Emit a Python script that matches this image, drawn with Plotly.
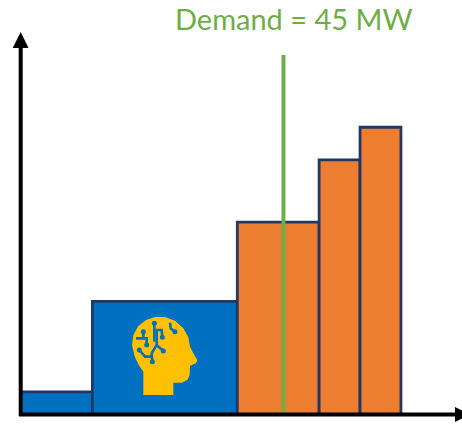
import plotly.graph_objects as go

W, H = 462, 424

# Merit-order blocks: capacity (MW) and bid height for each generator
capacity_mw = [12.3, 24.8, 14, 7, 7]
bid_height = [8, 40, 68, 90, 101.5]
block_colors = ["#0070C0", "#0070C0", "#ED7D31", "#ED7D31", "#ED7D31"]
demand_mw = 45
demand_label = "Demand = 45 MW"
demand_line_top = 127

NAVY = "#1F3864"
GREEN = "#70AD47"
BLUE = "#0070C0"
GOLD = "#FFC000"

left_edges = [sum(capacity_mw[:i]) for i in range(len(capacity_mw))]

# Plot scale: the origin sits 20.5 px from the left and 9.5 px from the bottom
PX_PER_MW = 5.844
PX_PER_UNIT = 2.83
x_range = [-20.5 / PX_PER_MW, (W - 20.5) / PX_PER_MW]
y_range = [-9.5 / PX_PER_UNIT, (H - 9.5) / PX_PER_UNIT]


def px(x, y):
    return x / W, 1 - y / H


def path(points, close=False):
    parts = []
    for i, (x, y) in enumerate(points):
        fx, fy = px(x, y)
        parts.append(f"{'M' if i == 0 else 'L'}{fx:.5f},{fy:.5f}")
    return " ".join(parts) + (" Z" if close else "")


def paper_shape(d, **kw):
    return dict(type="path", xref="paper", yref="paper", path=d, layer="above", **kw)


# Head icon outline, traced in a 110-unit box placed over the large blue block
def icon(u, v):
    return 110 + u / 3, 300 + v / 3


head_outline = [(100, 285), (100, 215), (88, 198), (74, 170), (66, 135), (70, 105), (85, 78),
                (108, 60), (135, 51), (165, 51), (195, 62), (220, 85), (235, 112), (240, 140),
                (250, 160), (262, 180), (258, 190), (240, 197), (239, 225), (232, 240),
                (215, 248), (190, 248), (190, 285)]
circuit_traces = [
    [(78, 115), (110, 115), (110, 135)],
    [(100, 95), (100, 115)],
    [(133, 70), (133, 125)],
    [(157, 112), (155, 90), (140, 90), (140, 135), (125, 160), (127, 185)],
    [(88, 150), (105, 170), (125, 170)],
    [(140, 135), (160, 153)],
    [(180, 68), (182, 85), (195, 95)],
]
circuit_nodes = [(110, 135), (100, 95), (133, 70), (157, 112), (127, 185), (88, 150), (160, 153), (195, 95)]

shapes = [
    paper_shape(path([icon(u, v) for u, v in head_outline], close=True), fillcolor=GOLD, line=dict(width=0)),
]
for trace in circuit_traces:
    shapes.append(paper_shape(path([icon(u, v) for u, v in trace]), line=dict(color=BLUE, width=2.6)))
for u, v in circuit_nodes:
    cx, cy = icon(u, v)
    x0, y0 = px(cx - 2.5, cy + 2.5)
    x1, y1 = px(cx + 2.5, cy - 2.5)
    shapes.append(dict(type="circle", xref="paper", yref="paper", x0=x0, y0=y0, x1=x1, y1=y1,
                       fillcolor=BLUE, line=dict(width=0), layer="above"))

# Axis lines with triangular heads
shapes += [
    paper_shape(path([(20.7, 416), (20.7, 46)]), line=dict(color="black", width=4)),
    paper_shape(path([(20.7, 32), (12.7, 48), (28.5, 48)], close=True), fillcolor="black", line=dict(width=0)),
    paper_shape(path([(19, 414.5), (457, 414.5)]), line=dict(color="black", width=4)),
    paper_shape(path([(455, 407), (470, 414.5), (455, 422)], close=True), fillcolor="black", line=dict(width=0)),
]

fig = go.Figure()
fig.add_bar(
    x=left_edges,
    y=bid_height,
    width=capacity_mw,
    offset=0,
    marker=dict(color=block_colors, line=dict(color=NAVY, width=2.8)),
)
fig.add_scatter(
    x=[demand_mw, demand_mw],
    y=[0, demand_line_top],
    mode="lines",
    line=dict(color=GREEN, width=4),
)
fig.update_layout(
    width=W,
    height=H,
    margin=dict(l=0, r=0, t=0, b=0),
    paper_bgcolor="white",
    plot_bgcolor="white",
    showlegend=False,
    xaxis=dict(range=x_range, visible=False, fixedrange=True),
    yaxis=dict(range=y_range, visible=False, fixedrange=True),
    shapes=shapes,
    annotations=[dict(
        text=demand_label,
        xref="paper", yref="paper",
        x=293.5 / W, y=1 - 19 / H,
        xanchor="center", yanchor="middle",
        showarrow=False,
        font=dict(family="Lato", size=29, color=GREEN),
    )],
)
fig.write_html("out.html", config={"displayModeBar": False})
